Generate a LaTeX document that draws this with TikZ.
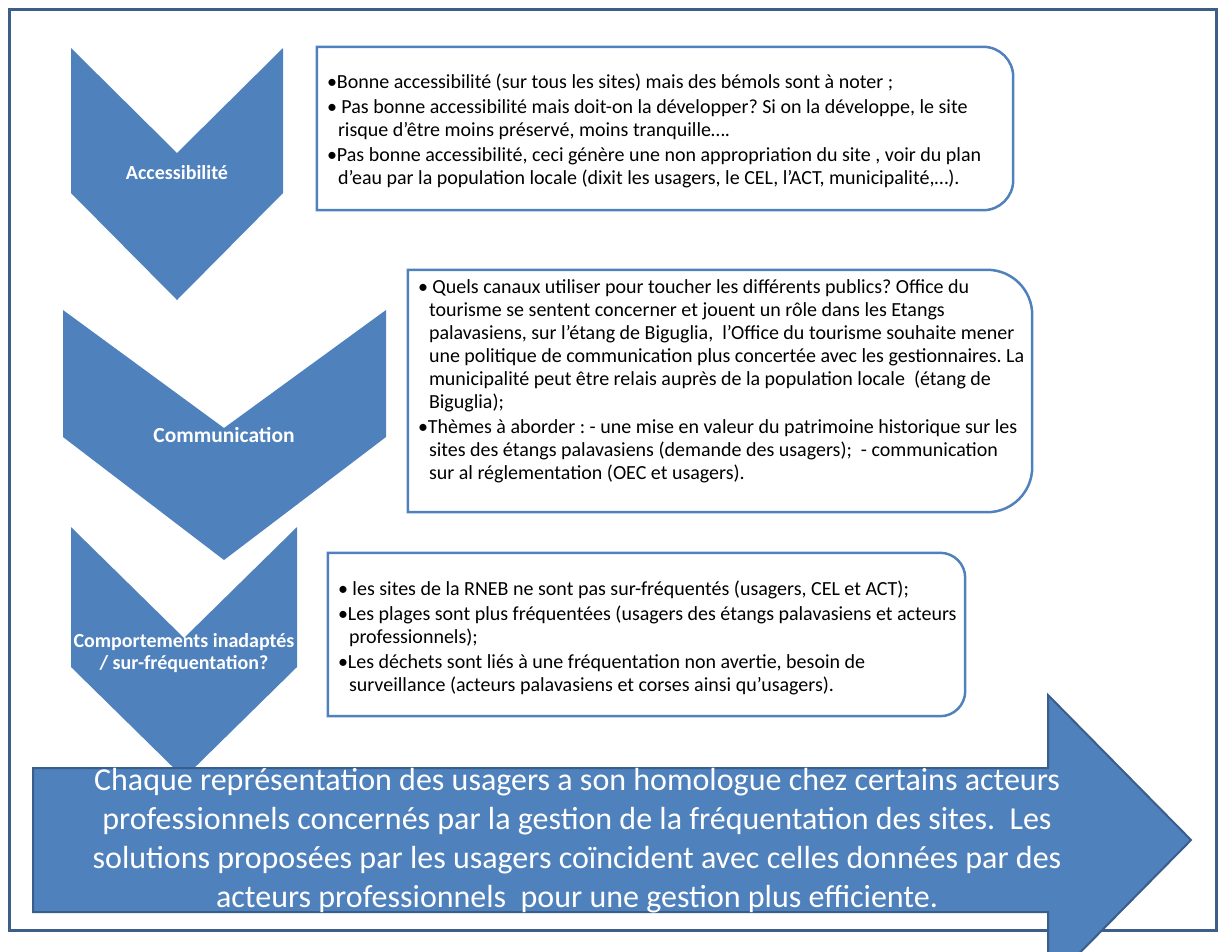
\documentclass[tikz,border=0pt]{standalone}
\usepackage{fontspec}
\setmainfont{Carlito}
\usetikzlibrary{positioning,calc}

\definecolor{officeblue}{HTML}{4F81BD}
\definecolor{frameblue}{HTML}{3E5E8A}
\definecolor{arrowedge}{HTML}{3A5E8C}

\newcommand{\boxfont}{\fontsize{20}{23}\selectfont\frenchspacing\raggedright
  \hyphenpenalty=10000\relax\setlength{\parskip}{2pt}}

\tikzset{
  chevron/.style={fill=officeblue,draw=none},
  chevtext/.style={text=white,align=center,
    font=\fontsize{20}{22}\selectfont\bfseries},
  infobox/.style={draw=none,inner sep=0pt},
  boxtext/.style={text width=700pt,inner sep=0pt,anchor=west,
    font=\boxfont},
  boxline/.style={draw=officeblue,line width=2.5pt},
  bigarrow/.style={fill=officeblue,draw=arrowedge,line width=2pt},
  conclusion/.style={text=white,align=center,
    font=\fontsize{32}{39}\selectfont\frenchspacing}
}

% one bullet paragraph, later lines hang under the text
\newcommand{\itm}{\par\spaceskip=0pt\xspaceskip=0pt
  \hangindent=0.55em\hangafter=1\noindent}
% box outline, right corners rounded
\newcommand{\roundright}[2]{%
  \draw[boxline] (#1.south west) -- (#1.north west)
    -- ([xshift=-#2]#1.north east) arc[start angle=90,end angle=0,radius=#2]
    -- ([yshift=#2]#1.south east) arc[start angle=0,end angle=-90,radius=#2]
    -- cycle;}

\begin{document}
\begin{tikzpicture}[x=1pt,y=1pt]

\useasboundingbox (0,0) rectangle (1220,-951);
\clip (0,0) rectangle (1220,-951);

% frame
\draw[frameblue,line width=3pt] (9,-9) rectangle (1216,-930);

% chevrons
\fill[chevron] (71,-48) -- (177,-153) -- (283,-48) -- (283,-193)
  -- (177,-300) -- (71,-193) -- cycle;
\fill[chevron] (63,-310) -- (224,-428) -- (386,-310) -- (386,-437)
  -- (224,-560) -- (63,-437) -- cycle;
\fill[chevron] (71,-527) -- (184,-638) -- (297,-527) -- (297,-667)
  -- (184,-778) -- (71,-667) -- cycle;

\node[chevtext] (acc) at (177,-173) {Accessibilité};
\node[chevtext,font=\fontsize{21.5}{22}\selectfont\bfseries] (com) at (224,-435) {Communication};
\node[chevtext] (comp) at (184,-653) {Comportements inadaptés\\/ sur-fréquentation?};

% text boxes
\node[infobox,minimum width=696pt,minimum height=163pt]
  (acc box) at (665,-128.5) {};
\roundright{acc box}{30pt}
\node[boxtext,xshift=10pt,yshift=3pt] (acc txt) at (acc box.west)
{%
  \itm •Bonne accessibilité (sur tous les sites) mais des bémols sont à noter ;
  \itm • Pas bonne accessibilité mais doit-on la développer? Si on la développe, le site\newline
  risque d’être moins préservé, moins tranquille….
  \itm •Pas bonne accessibilité, ceci génère une non appropriation du site , voir du plan\newline
  d’eau par la population locale (dixit les usagers, le CEL, l’ACT, municipalité,…).\par
};

\node[infobox,minimum width=624pt,minimum height=242pt]
  (com box) at (720,-391) {};
\roundright{com box}{45pt}
\node[boxtext,xshift=10pt,yshift=15pt] (com txt) at (com box.west)
{%
  \itm • Quels canaux utiliser pour toucher les différents publics? Office du\newline
  tourisme se sentent concerner et jouent un rôle dans les Etangs\newline
  palavasiens, sur l’étang de Biguglia,~ l’Office du tourisme souhaite mener\newline
  une politique de communication plus concertée avec les gestionnaires. La\newline
  municipalité peut être relais auprès de la population locale~ (étang de\newline
  Biguglia);
  \itm •Thèmes à aborder : - une mise en valeur du patrimoine historique sur les\newline
  sites des étangs palavasiens (demande des usagers);~ - communication\newline
  sur al réglementation (OEC et usagers).\par
};

\node[infobox,minimum width=637pt,minimum height=163pt]
  (comp box) at (646.5,-634.5) {};
\roundright{comp box}{25pt}
\node[boxtext,xshift=10pt,yshift=2pt] (comp txt) at (comp box.west)
{%
  \itm • les sites de la RNEB ne sont pas sur-fréquentés (usagers, CEL et ACT);
  \itm •Les plages sont plus fréquentées (usagers des étangs palavasiens et acteurs\newline
  professionnels);
  \itm •Les déchets sont liés à une fréquentation non avertie, besoin de\newline
  surveillance (acteurs palavasiens et corses ainsi qu’usagers).\par
};

% conclusion arrow
\draw[bigarrow] (33,-768) -- (1048,-768) -- (1048,-695) -- (1191,-840)
  -- (1048,-985) -- (1048,-912) -- (33,-912) -- cycle;
\node[conclusion] (concl) at (577,-841)
{Chaque représentation des usagers a son homologue chez certains acteurs\\
professionnels concernés par la gestion de la fréquentation des sites.~ Les\\
solutions proposées par les usagers coïncident avec celles données par des\\
acteurs professionnels~ pour une gestion plus efficiente.};

\end{tikzpicture}
\end{document}
